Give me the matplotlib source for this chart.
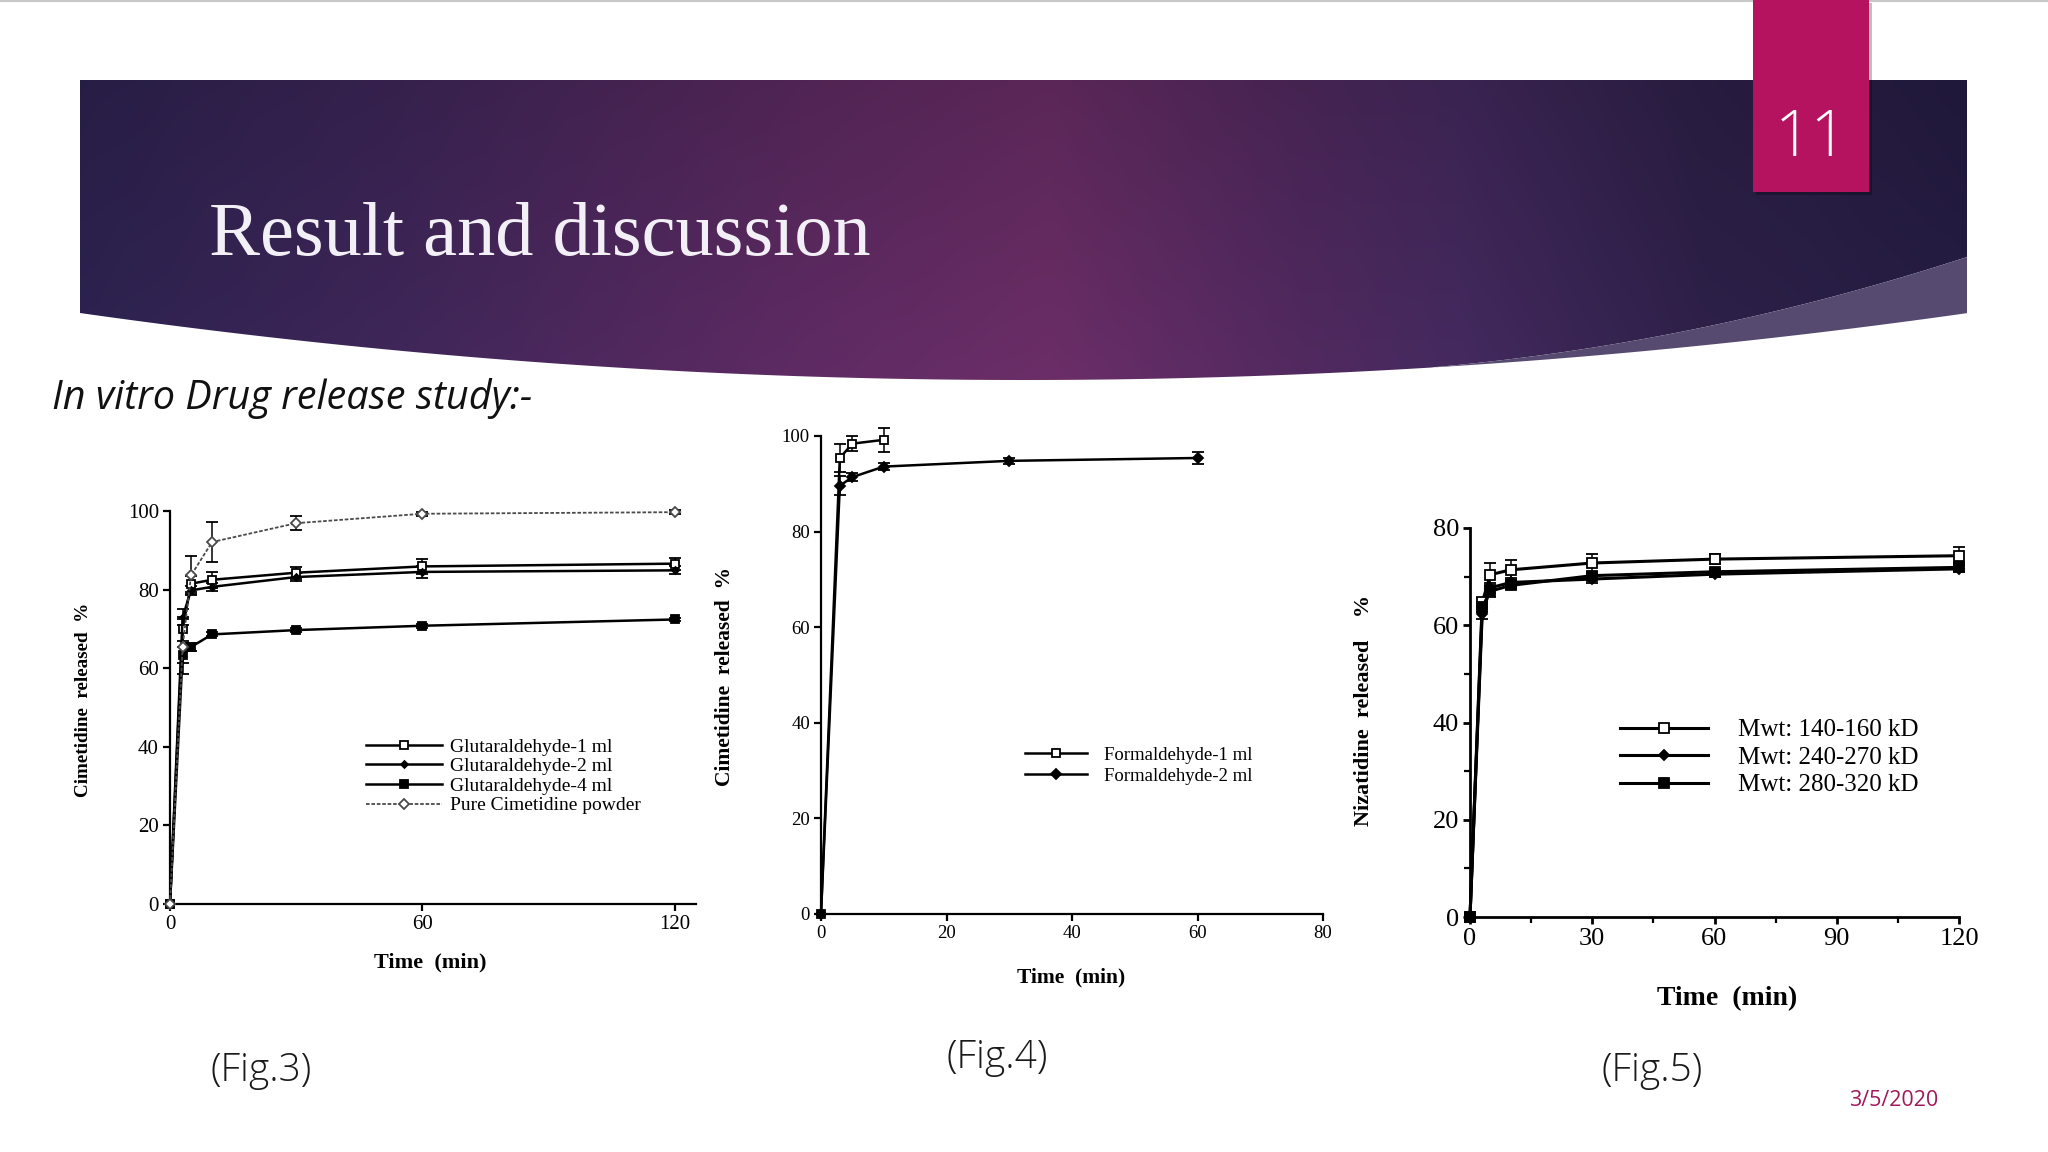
import numpy as np
import matplotlib
matplotlib.use("Agg")
import matplotlib.pyplot as plt
from matplotlib.patches import Polygon, Rectangle
from matplotlib.colors import to_rgb

plt.rcParams["font.family"] = ["Liberation Serif", "DejaVu Serif"]

# Fig.3 - cimetidine release, glutaraldehyde crosslinked
t3 = [0, 3, 5, 10, 30, 60, 120]
glut1 = [0, 70.0, 81.5, 82.5, 84.3, 85.9, 86.6]
glut1_err = [0, 3.0, 2.0, 2.0, 1.5, 2.0, 1.5]
glut2 = [0, 73.0, 79.8, 80.7, 83.2, 84.5, 84.9]
glut2_err = [0, 2.0, 1.0, 1.0, 1.0, 1.5, 1.0]
glut4 = [0, 63.3, 65.4, 68.6, 69.7, 70.8, 72.4]
glut4_err = [0, 2.0, 1.0, 0.5, 0.5, 0.5, 0.5]
pure = [0, 65.4, 83.6, 92.1, 96.9, 99.3, 99.7]
pure_err = [0, 7.0, 5.0, 5.0, 1.8, 0.5, 0.5]

# Fig.4 - formaldehyde crosslinked
t4a = [0, 3, 5, 10]
form1 = [0, 95.4, 98.4, 99.2]
form1_err = [0, 3.0, 1.5, 2.5]
t4b = [0, 3, 5, 10, 30, 60]
form2 = [0, 89.6, 91.4, 93.6, 94.8, 95.4]
form2_err = [0, 2.0, 0.8, 0.8, 0.6, 1.2]

# Fig.5 - nizatidine release, chitosan molecular weight
t5 = [0, 3, 5, 10, 30, 60, 120]
mwt1 = [0, 64.7, 70.4, 71.4, 72.8, 73.6, 74.3]
mwt1_err = [0, 1.0, 2.3, 2.0, 1.8, 1.0, 1.7]
mwt2 = [0, 62.3, 67.7, 68.8, 69.5, 70.5, 71.6]
mwt2_err = [0, 1.0, 1.0, 1.0, 0.8, 0.6, 0.6]
mwt3 = [0, 63.7, 67.0, 68.2, 70.2, 71.0, 71.9]
mwt3_err = [0, 1.0, 1.2, 0.8, 0.5, 0.5, 0.8]

W, H = 2048, 1152
fig = plt.figure(figsize=(W / 100, H / 100), dpi=100)
fig.patch.set_facecolor("white")

# background layer in pixel coordinates
bg = fig.add_axes([0, 0, 1, 1])
bg.set_xlim(0, W)
bg.set_ylim(H, 0)
bg.axis("off")

bg.plot([0, W], [1, 1], color="#c8c8c8", lw=1.5)

# banner shape
xl, xr, ytop = 80, 1967, 80
xs = np.linspace(xl, xr, 300)
bottom = 380 - 67 * ((xs - 1024) / 944) ** 2
xw = np.linspace(1436, xr, 100)
wcoef = np.polyfit([1436, 1700, 1967], [367, 328, 257], 2)
wedge_top = np.polyval(wcoef, xw)
wedge_bot = 380 - 67 * ((xw - 1024) / 944) ** 2

left_part = xs <= 1436
dark_pts = [(xl, ytop), (xr, ytop)]
dark_pts += list(zip(xw[::-1], wedge_top[::-1]))
dark_pts += list(zip(xs[left_part][::-1], bottom[left_part][::-1]))
dark = Polygon(dark_pts, closed=True, facecolor="none", edgecolor="none")
bg.add_patch(dark)

# gradient fill for the banner
gx = np.linspace(xl, xr, 600)
gy = np.linspace(ytop, 385, 120)
stops_x = [80, 400, 800, 1050, 1300, 1460, 1700, 1967]
stops_c = ["#2e2352", "#40275b", "#5f2b64", "#6c2e68", "#522a61",
           "#452a60", "#2f214b", "#261d45"]
rgb = np.array([to_rgb(c) for c in stops_c])
row = np.stack([np.interp(gx, stops_x, rgb[:, k]) for k in range(3)], axis=-1)
shade = 0.84 + 0.16 * ((gy - ytop) / (385 - ytop))
img = row[None, :, :] * shade[:, None, None]
im = bg.imshow(img, extent=[xl, xr, 385, ytop], aspect="auto",
               interpolation="bilinear", zorder=1)
im.set_clip_path(dark)

wedge_pts = list(zip(xw, wedge_top)) + list(zip(xw[::-1], wedge_bot[::-1]))
bg.add_patch(Polygon(wedge_pts, closed=True, facecolor="#564a70",
                     edgecolor="none", zorder=1))

# slide number tab
bg.add_patch(Rectangle((1756, 3), 116, 192, facecolor="black", alpha=0.25,
                       edgecolor="none", zorder=2))
bg.add_patch(Rectangle((1753, 0), 116, 192, facecolor="#b5135f",
                       edgecolor="none", zorder=3))
bg.text(1811, 140, "11", ha="center", va="center", fontsize=46,
        color="white", family=["Open Sans", "DejaVu Sans"], weight="light",
        zorder=4)

bg.text(209, 255, "Result and discussion", fontsize=55, color="#f3eff6",
        family=["Liberation Serif"], va="baseline", zorder=4)
bg.text(52, 409, "In vitro Drug release study:-", fontsize=28.5,
        style="italic", family=["Open Sans", "DejaVu Sans"], va="baseline",
        color="#111111")

cap_font = dict(fontsize=28, family=["Open Sans", "DejaVu Sans"],
                weight="light", ha="center", va="center", color="#1a1a1a")
bg.text(261, 1071, "(Fig.3)", **cap_font)
bg.text(997, 1058, "(Fig.4)", **cap_font)
bg.text(1652, 1071, "(Fig.5)", **cap_font)
bg.text(1894, 1100, "3/5/2020", fontsize=15.5, color="#a0195a",
        family=["Open Sans", "DejaVu Sans"], ha="center", va="center")


def style(ax, fs, lw=1.6):
    ax.set_facecolor("none")
    for s in ["top", "right"]:
        ax.spines[s].set_visible(False)
    for s in ["left", "bottom"]:
        ax.spines[s].set_linewidth(lw)
    ax.tick_params(direction="out", length=5, width=lw, labelsize=fs, pad=3)


def series(ax, t, y, err, marker, mfc, ms, lw, color="black", ls="-", label=None):
    ax.errorbar(t, y, yerr=err, color=color, ls=ls, lw=lw, marker=marker,
                mfc=mfc, mec=color, ms=ms, mew=1.3, ecolor="black",
                elinewidth=1.1, capsize=4, capthick=1.1, label=label,
                clip_on=False, zorder=3)


def add_legend(ax, anchor, fs, hl, tp, ls):
    handles, labels = ax.get_legend_handles_labels()
    handles = [h[0] for h in handles]
    ax.legend(handles, labels, loc="center left", bbox_to_anchor=anchor,
              frameon=False, fontsize=fs, handlelength=hl, handletextpad=tp,
              labelspacing=ls, borderpad=0, borderaxespad=0)


# ---- Fig.3
ax3 = fig.add_axes([170 / W, 1 - 904 / H, 525.7 / W, 393 / H])
style(ax3, 15)
series(ax3, t3, glut1, glut1_err, "s", "white", 6, 1.8, label="Glutaraldehyde-1 ml")
series(ax3, t3, glut2, glut2_err, "D", "black", 3.5, 1.8, label="Glutaraldehyde-2 ml")
series(ax3, t3, glut4, glut4_err, "s", "black", 6, 1.8, label="Glutaraldehyde-4 ml")
series(ax3, t3, pure, pure_err, "D", "white", 5, 1.3, color="#4a4a4a",
       ls=(0, (2, 1)), label="Pure Cimetidine powder")
ax3.set_xlim(0, 125)
ax3.set_ylim(0, 100)
ax3.set_xticks([0, 60, 120])
ax3.set_yticks([0, 20, 40, 60, 80, 100])
ax3.set_xlabel("Time  (min)", fontsize=16, weight="bold", va="center")
ax3.xaxis.set_label_coords(0.495, -0.148)
ax3.set_ylabel("Cimetidine  released  %", fontsize=13.8, weight="bold", va="center")
ax3.yaxis.set_label_coords(-0.164, 0.52)
add_legend(ax3, (0.373, 0.325), 14, 3.9, 0.4, 0.1)

# ---- Fig.4
ax4 = fig.add_axes([821 / W, 1 - 914 / H, 502 / W, 478 / H])
style(ax4, 13.5)
series(ax4, t4a, form1, form1_err, "s", "white", 6, 1.8, label="Formaldehyde-1 ml")
series(ax4, t4b, form2, form2_err, "D", "black", 5, 1.8, label="Formaldehyde-2 ml")
ax4.set_xlim(0, 80)
ax4.set_ylim(0, 100)
ax4.set_xticks([0, 20, 40, 60, 80])
ax4.set_yticks([0, 20, 40, 60, 80, 100])
ax4.set_xlabel("Time  (min)", fontsize=15.5, weight="bold", va="center")
ax4.xaxis.set_label_coords(0.498, -0.132)
ax4.set_ylabel("Cimetidine  released  %", fontsize=15.5, weight="bold", va="center")
ax4.yaxis.set_label_coords(-0.191, 0.496)
add_legend(ax4, (0.406, 0.31), 13.5, 3.3, 0.9, 0.2)

# ---- Fig.5
ax5 = fig.add_axes([1470 / W, 1 - 917 / H, 489 / W, 389 / H])
style(ax5, 19, lw=2)
series(ax5, t5, mwt1, mwt1_err, "s", "white", 7, 2.2, label="Mwt: 140-160 kD")
series(ax5, t5, mwt2, mwt2_err, "D", "black", 5.5, 2.2, label="Mwt: 240-270 kD")
series(ax5, t5, mwt3, mwt3_err, "s", "black", 7, 2.2, label="Mwt: 280-320 kD")
ax5.set_xlim(0, 120)
ax5.set_ylim(0, 80)
ax5.set_xticks([0, 30, 60, 90, 120])
ax5.set_xticks([15, 45, 75, 105], minor=True)
ax5.set_yticks([0, 20, 40, 60, 80])
ax5.set_yticks([10, 30, 50, 70], minor=True)
ax5.tick_params(which="minor", direction="out", length=4, width=1.6)
ax5.set_xlabel("Time  (min)", fontsize=20, weight="bold", va="center")
ax5.xaxis.set_label_coords(0.526, -0.211)
ax5.set_ylabel("Nizatidine  released    %", fontsize=16, weight="bold", va="center")
ax5.yaxis.set_label_coords(-0.217, 0.532)
add_legend(ax5, (0.307, 0.41), 18, 3.5, 1.2, 0.2)

fig.savefig("out.png", dpi=100)
